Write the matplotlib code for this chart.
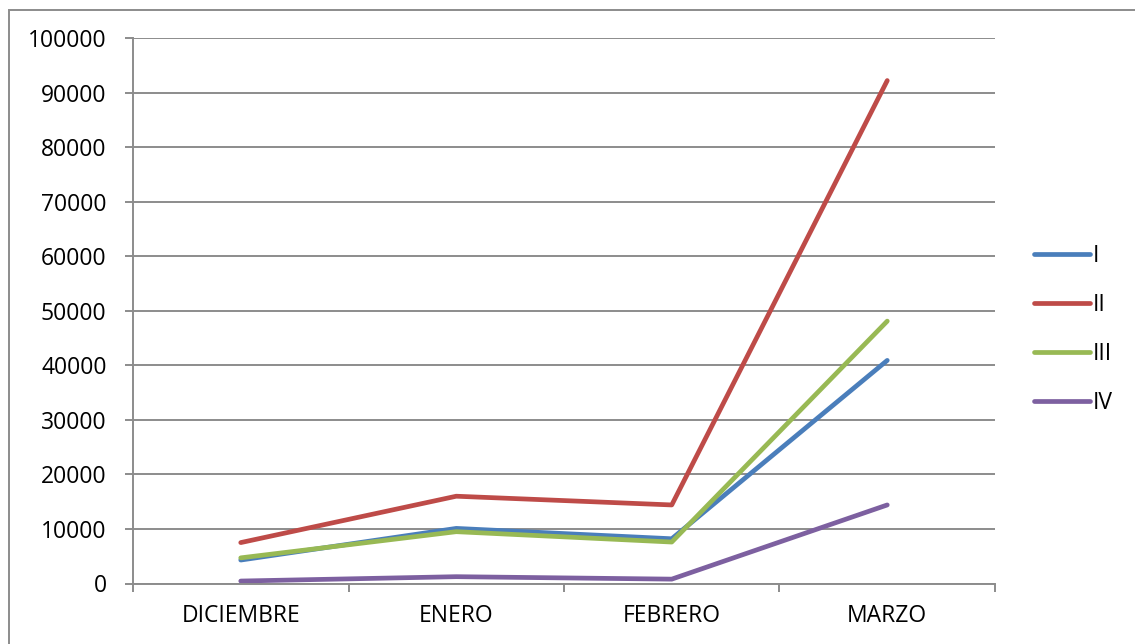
import matplotlib
matplotlib.use("Agg")
import matplotlib.pyplot as plt
from matplotlib.patches import Rectangle

categories = ["DICIEMBRE", "ENERO", "FEBRERO", "MARZO"]
serie_I = [4300, 10100, 8200, 40900]
serie_II = [7500, 16000, 14400, 92200]
serie_III = [4700, 9500, 7600, 48100]
serie_IV = [450, 1250, 800, 14400]
series_names = ["I", "II", "III", "IV"]
y_ticks = [0, 10000, 20000, 30000, 40000, 50000, 60000, 70000, 80000, 90000, 100000]

colors = ["#4A7EBB", "#BE4B48", "#98B954", "#7D60A0"]
grid_c = "#8C8C8C"

plt.rcParams['font.family'] = ['Open Sans', 'DejaVu Sans']
fs = 16.5

fig = plt.figure(figsize=(11.35, 6.44), dpi=100)
ax = fig.add_axes([133/1135, 1-583.5/644, (995-133)/1135, (583.5-38)/644])

x = list(range(len(categories)))
for vals, name, c in zip([serie_I, serie_II, serie_III, serie_IV], series_names, colors):
    ax.plot(x, vals, color=c, lw=3.4, label=name, solid_capstyle='round', solid_joinstyle='round')

ax.set_xlim(-0.5, len(categories) - 0.5)
ax.set_ylim(0, 100000)
ax.set_yticks(y_ticks)
ax.set_yticklabels([str(v) for v in y_ticks])
ax.set_xticks(x)
ax.set_xticklabels(categories)
ax.set_xticks([i - 0.5 for i in range(len(categories) + 1)], minor=True)

ax.yaxis.grid(True, color=grid_c, lw=1.4)
ax.set_axisbelow(True)
for s in ['top', 'right']:
    ax.spines[s].set_visible(False)
for s in ['left', 'bottom']:
    ax.spines[s].set_color(grid_c)
    ax.spines[s].set_linewidth(1.4)

ax.tick_params(axis='y', length=6, width=1.4, color=grid_c, pad=13, labelsize=fs, labelcolor='black')
ax.tick_params(axis='x', which='major', length=0, pad=15, labelsize=fs, labelcolor='black')
ax.tick_params(axis='x', which='minor', length=6, width=1.4, color=grid_c)

leg = fig.legend(loc='center left', bbox_to_anchor=(1034/1135, 1-329.5/644), frameon=False,
                 fontsize=fs, handlelength=2.45, handletextpad=0.12, labelspacing=1.1,
                 borderpad=0, borderaxespad=0)

fig.patches.append(Rectangle((8.5/1135, -0.05), 1.1, 1.05 - 9.5/644, transform=fig.transFigure,
                             fill=False, edgecolor=grid_c, lw=1.4))

fig.savefig("out.png", dpi=100)
